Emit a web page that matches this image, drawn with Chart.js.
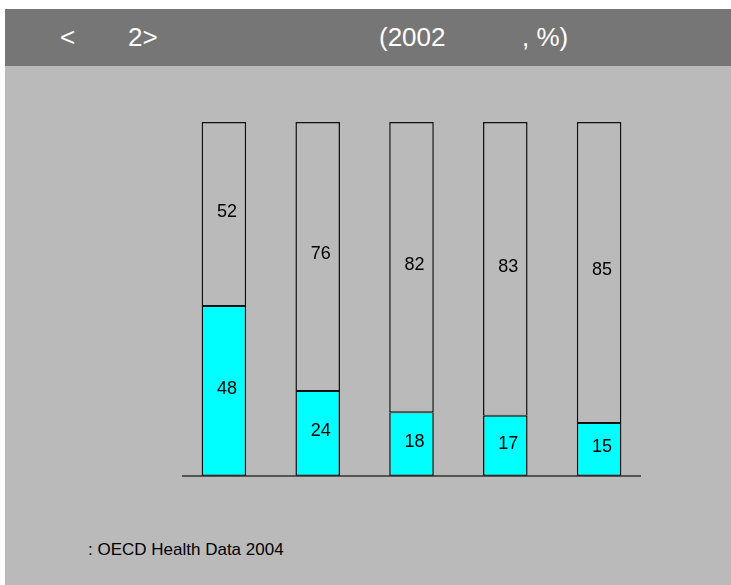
<!DOCTYPE html>
<html>
<head>
<meta charset="utf-8">
<script src="https://cdn.jsdelivr.net/npm/chart.js@4.4.1/dist/chart.umd.min.js"></script>
<style>
  html, body { margin: 0; padding: 0; background: #ffffff; width: 731px; height: 585px; overflow: hidden; }
  #page { position: absolute; left: 5px; top: 9px; width: 726px; height: 576px; background: #BABABA; }
  #header { position: absolute; left: 0; top: 0; width: 726px; height: 57px; background: #767676; color: #ffffff;
            font-family: "Liberation Sans", Arial, sans-serif; font-size: 26px; }
  #header span { position: absolute; top: 13px; white-space: pre; }
  #source { position: absolute; left: 83px; top: 531px; font-family: "Liberation Sans", Arial, sans-serif; font-size: 17px; color: #000; white-space: pre; }
  #wrap { position: absolute; left: 162px; top: 103px; width: 489px; height: 374px; }
</style>
</head>
<body>
<div id="page">
  <div id="header"><span style="left:55px">&lt;</span><span style="left:123px">2&gt;</span><span style="left:374px">(2002</span><span style="left:517px">, %)</span></div>
  <div id="wrap"><canvas id="c"></canvas></div>
  <div id="source">: OECD Health Data 2004</div>
</div>
<script>
const categories = ['1', '2', '3', '4', '5'];
const lowerValues = [48, 24, 18, 17, 15];
const upperValues = [52, 76, 82, 83, 85];

const valueLabels = {
  id: 'valueLabels',
  afterDatasetsDraw(chart) {
    const ctx = chart.ctx;
    ctx.save();
    ctx.font = '18px "Liberation Sans", Arial, sans-serif';
    ctx.fillStyle = '#000';
    ctx.textAlign = 'center';
    ctx.textBaseline = 'middle';
    chart.data.datasets.forEach((ds, di) => {
      chart.getDatasetMeta(di).data.forEach((bar, i) => {
        const p = bar.getProps(['x', 'y', 'base'], true);
        ctx.fillText(String(ds.data[i]), p.x + 3, (p.y + p.base) / 2 - 2);
      });
    });
    ctx.restore();
  }
};

const baseline = {
  id: 'baseline',
  afterDatasetsDraw(chart) {
    const ctx = chart.ctx;
    const y = chart.scales.y.getPixelForValue(0);
    ctx.save();
    ctx.strokeStyle = '#333';
    ctx.lineWidth = 1.5;
    ctx.beginPath();
    ctx.moveTo(chart.chartArea.left + 5, y);
    ctx.lineTo(chart.chartArea.right - 5, y);
    ctx.stroke();
    ctx.restore();
  }
};

new Chart(document.getElementById('c'), {
  type: 'bar',
  data: {
    labels: categories,
    datasets: [
      { data: lowerValues, backgroundColor: '#00FFFF', borderColor: '#111',
        borderWidth: { top: 1, left: 1.5, right: 1.5, bottom: 1.5 }, borderSkipped: false },
      { data: upperValues, backgroundColor: '#BABABA', borderColor: '#111',
        borderWidth: { top: 1.5, left: 1.5, right: 1.5, bottom: 1 }, borderSkipped: false }
    ]
  },
  options: {
    responsive: true,
    maintainAspectRatio: false,
    animation: false,
    layout: { padding: 10 },
    datasets: { bar: { categoryPercentage: 1, barPercentage: 0.475 } },
    plugins: { legend: { display: false }, tooltip: { enabled: false }, title: { display: false } },
    scales: {
      x: { stacked: true, display: false },
      y: { stacked: true, display: false, min: 0, max: 100 }
    }
  },
  plugins: [valueLabels, baseline]
});
</script>
</body>
</html>
